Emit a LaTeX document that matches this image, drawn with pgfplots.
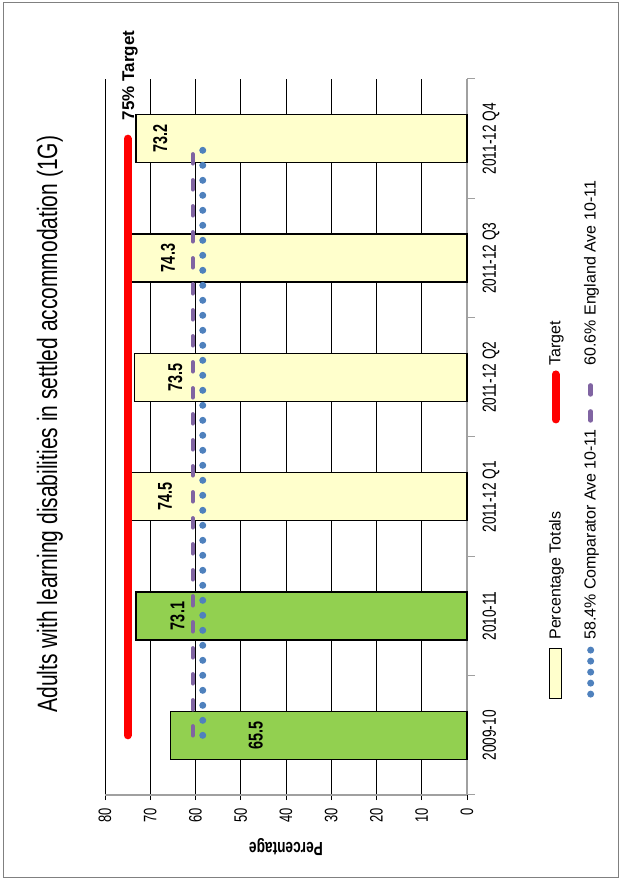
\documentclass[border=0pt]{standalone}
\usepackage{pgfplots}
\pgfplotsset{compat=1.18}
\usepackage{fontspec}
\setmainfont{Liberation Sans}
\newfontfamily\narrowfont{Liberation Sans}[FakeStretch=0.72]
\newfontfamily\titlefont{Liberation Sans}[FakeStretch=0.75]
\definecolor{bargreen}{HTML}{92D050}
\definecolor{baryellow}{HTML}{FFFFCC}
\definecolor{tgtred}{HTML}{FF0000}
\definecolor{engpurple}{HTML}{8064A2}
\definecolor{compblue}{HTML}{4F81BD}
\definecolor{axgray}{HTML}{A0A0A0}
\begin{document}
\begin{tikzpicture}[rotate=90, transform shape]
\path[use as bounding box] (0pt,0pt) rectangle (881pt,-621pt);
\draw[gray, line width=1pt] (3pt,-3pt) rectangle (878pt,-618pt);
\begin{axis}[
  at={(86pt,-467pt)}, anchor=south west,
  scale only axis, width=716pt, height=362pt,
  clip=false,
  xmin=-0.5, xmax=5.5, ymin=0, ymax=80,
  axis x line*=bottom, axis y line*=left,
  axis line style={-, draw=axgray, line width=1.5pt},
  xtick={0,1,2,3,4,5},
  xticklabels={2009-10,2010-11,2011-12 Q1,2011-12 Q2,2011-12 Q3,2011-12 Q4},
  major x tick style={draw=none},
  minor xtick={-0.5,0.5,1.5,2.5,3.5,4.5,5.5},
  minor x tick style={axgray, line width=1pt},
  minor tick length=8pt,
  tick align=outside,
  ytick={0,10,20,30,40,50,60,70,80},
  major tick length=5pt,
  major y tick style={black, line width=0.8pt},
  ymajorgrids, major grid style={black, line width=0.8pt},
  /pgf/number format/assume math mode=true,
  xticklabel style={font=\narrowfont\fontsize{19}{19}\selectfont, yshift=-7pt},
  yticklabel style={font=\narrowfont\fontsize{18}{18}\selectfont, xshift=-5pt},
  ylabel={Percentage},
  every axis y label/.style={at={(rel axis cs:-0.072,0.5)}, rotate=90, anchor=center,
    font=\narrowfont\bfseries\fontsize{19}{19}\selectfont},
  legend columns=2,
  legend cell align=left,
  legend style={at={(rel axis cs:0.13,-0.215)}, anchor=north west, draw=none, fill=none,
    font=\fontsize{16}{16}\selectfont, row sep=18pt,
    /tikz/every odd column/.append style={column sep=3pt},
    /tikz/every even column/.append style={column sep=4pt}},
]
% bars
\addplot[ybar, bar width=48pt, bar shift=0pt, fill=baryellow, draw=black, line width=1.5pt,
  legend image code/.code={\draw[fill=baryellow, draw=black, line width=1.2pt] (0pt,-6pt) rectangle (50pt,6pt);}]
  coordinates {(2,74.5) (3,73.5) (4,74.3) (5,73.2)};
\addlegendentry{Percentage Totals}
\addplot[ybar, bar width=48pt, bar shift=0pt, fill=bargreen, draw=black, line width=1.5pt, forget plot]
  coordinates {(0,65.5) (1,73.1)};
% target
\addplot[tgtred, line width=8pt, line cap=round,
  legend image code/.code={\draw[tgtred, line width=8pt, line cap=round] (4pt,0pt) -- (49pt,0pt);}]
  coordinates {(0,75) (1,75) (2,75) (3,75) (4,75) (5,75)};
\addlegendentry{Target}
% comparator
\addplot[compblue, line width=7pt, line cap=round, dash pattern=on 0pt off 15pt,
  legend image code/.code={\draw[compblue, line width=7pt, line cap=round, dash pattern=on 0pt off 11pt] (4pt,0pt) -- (50pt,0pt);}]
  coordinates {(0,58.4) (1,58.4) (2,58.4) (3,58.4) (4,58.4) (5,58.4)};
\addlegendentry{58.4\% Comparator Ave 10-11}
% england
\addplot[engpurple, line width=4.5pt, line cap=round, dash pattern=on 9pt off 17pt,
  legend image code/.code={\draw[engpurple, line width=4.5pt, line cap=round, dash pattern=on 9pt off 17pt] (3pt,0pt) -- (45pt,0pt);}]
  coordinates {(0,60.6) (1,60.6) (2,60.6) (3,60.6) (4,60.6) (5,60.6)};
\addlegendentry{60.6\% England Ave 10-11}
% value labels
\begin{scope}[font=\narrowfont\bfseries\fontsize{20}{20}\selectfont]
\node at (axis cs:0,46.7) {65.5};
\node at (axis cs:1,64.0) {73.1};
\node at (axis cs:2,66.7) {74.5};
\node at (axis cs:3,64.5) {73.5};
\node at (axis cs:4,66.1) {74.3};
\node at (axis cs:5,67.8) {73.2};
\end{scope}
\node[font=\bfseries\fontsize{17}{17}\selectfont] at (axis cs:5.53,74.5) {75\% Target};
\node[font=\titlefont\fontsize{28}{28}\selectfont, anchor=base] at (rel axis cs:0.518,1.1326)
  {Adults with learning disabilities in settled accommodation (1G)};
\end{axis}
\end{tikzpicture}
\end{document}
